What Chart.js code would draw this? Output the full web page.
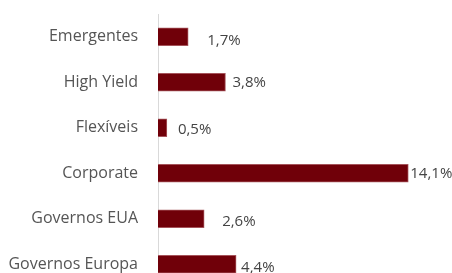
<!DOCTYPE html>
<html>
<head>
<meta charset="utf-8">
<script src="https://cdn.jsdelivr.net/npm/chart.js@4.4.0/dist/chart.umd.min.js"></script>
<style>
  html, body { margin: 0; padding: 0; background: #fff; overflow: hidden; }
  canvas { display: block; }
</style>
</head>
<body>
<canvas id="c" width="452" height="291"></canvas>
<script>
// categories and values (% weight)
const categories = ['Emergentes', 'High Yield', 'Flexíveis', 'Corporate', 'Governos EUA', 'Governos Europa'];
const weights = [1.7, 3.8, 0.5, 14.1, 2.6, 4.4];
const valueLabels = ['1,7%', '3,8%', '0,5%', '14,1%', '2,6%', '4,4%'];

// hand nudges for the value labels (the original has them placed by hand)
const nudgeX = [19, 7, 11, 2, 18, 5];
const nudgeY = [4, 0, 1.5, 0, 2.5, 3.5];

const FONT = '"Open Sans", sans-serif';

const valueLabelPlugin = {
    id: 'valueLabels',
    afterDatasetsDraw(chart) {
        const ctx = chart.ctx;
        const meta = chart.getDatasetMeta(0);
        ctx.save();
        ctx.font = '15px ' + FONT;
        ctx.fillStyle = '#444';
        ctx.textAlign = 'left';
        ctx.textBaseline = 'middle';
        meta.data.forEach((bar, i) => {
            ctx.fillText(valueLabels[i], bar.x + nudgeX[i], bar.y + nudgeY[i]);
        });
        ctx.restore();
    }
};

new Chart(document.getElementById('c'), {
    type: 'bar',
    data: {
        labels: categories,
        datasets: [{
            data: weights,
            backgroundColor: '#700009',
            borderColor: '#a5535a',
            borderWidth: 1,
            borderSkipped: 'left',
            barThickness: 18
        }]
    },
    options: {
        indexAxis: 'y',
        responsive: false,
        animation: false,
        layout: { padding: { top: 14, right: 10, bottom: 4, left: 0 } },
        plugins: { legend: { display: false }, tooltip: { enabled: false } },
        scales: {
            x: {
                min: 0,
                max: 16,
                display: false
            },
            y: {
                grid: { display: false, drawTicks: false },
                border: { display: true, color: '#d9d9d9', width: 1 },
                ticks: {
                    padding: 20,
                    color: '#555',
                    font: { family: FONT, size: 16 }
                },
                afterFit(axis) {
                    axis.width = 158;
                    // tick padding would otherwise eat vertical room
                    axis.paddingTop = 0;
                    axis.paddingBottom = 0;
                }
            }
        }
    },
    plugins: [valueLabelPlugin]
});
</script>
</body>
</html>
